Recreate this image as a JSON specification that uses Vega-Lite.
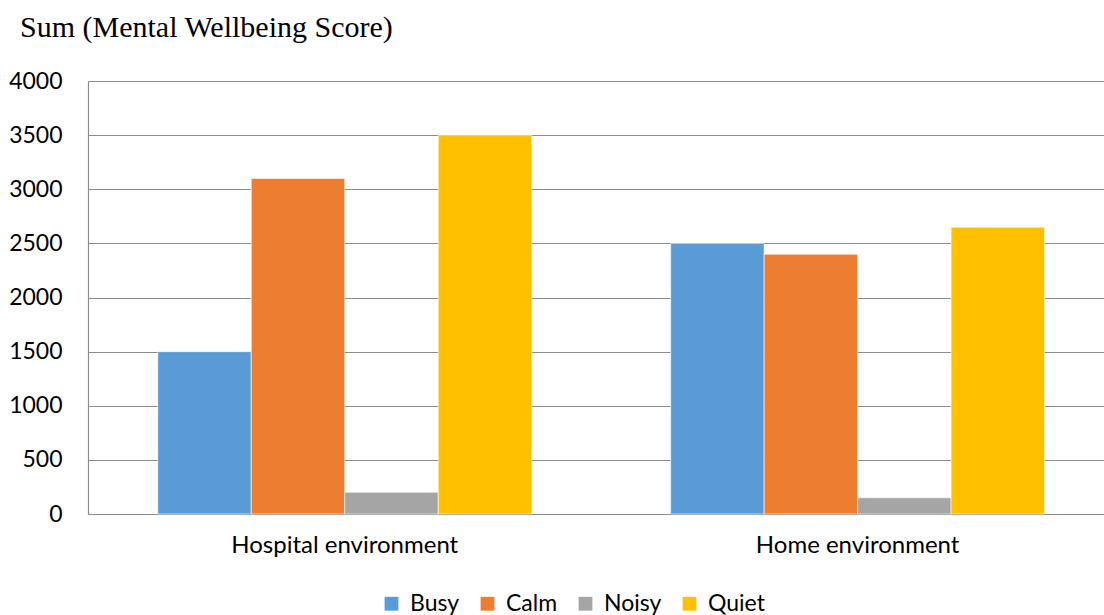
{
  "$schema": "https://vega.github.io/schema/vega-lite/v6.json",
  "width": 1016,
  "height": 433,
  "autosize": {"type": "none"},
  "padding": {"left": 88, "top": 81, "right": 0, "bottom": 101},
  "background": "white",
  "title": {
    "text": "Sum (Mental Wellbeing Score)",
    "anchor": "start",
    "frame": "group",
    "dx": -68,
    "font": "Liberation Serif",
    "fontSize": 30,
    "fontWeight": "normal",
    "color": "#000000",
    "offset": 27
  },
  "data": {
    "values": [
      {"environment": "Hospital environment", "type": "Busy", "score": 1500},
      {"environment": "Hospital environment", "type": "Calm", "score": 3100},
      {"environment": "Hospital environment", "type": "Noisy", "score": 200},
      {"environment": "Hospital environment", "type": "Quiet", "score": 3500},
      {"environment": "Home environment", "type": "Busy", "score": 2500},
      {"environment": "Home environment", "type": "Calm", "score": 2400},
      {"environment": "Home environment", "type": "Noisy", "score": 150},
      {"environment": "Home environment", "type": "Quiet", "score": 2650}
    ]
  },
  "mark": {"type": "bar", "stroke": "white", "strokeWidth": 0.6},
  "encoding": {
    "x": {
      "field": "environment",
      "type": "nominal",
      "sort": ["Hospital environment", "Home environment"],
      "scale": {"paddingInner": 0.271, "paddingOuter": 0.126, "align": 0.54},
      "axis": {
        "title": null,
        "labelAngle": 0,
        "labelFont": "Lato",
        "labelFontSize": 24,
        "labelLimit": 0,
        "labelColor": "#000000",
        "labelPadding": 19,
        "ticks": false,
        "domain": true,
        "domainColor": "#8c8c8c",
        "domainWidth": 1.2
      }
    },
    "xOffset": {
      "field": "type",
      "type": "nominal",
      "sort": ["Busy", "Calm", "Noisy", "Quiet"],
      "scale": {"paddingInner": 0, "paddingOuter": 0}
    },
    "y": {
      "field": "score",
      "type": "quantitative",
      "scale": {"domain": [0, 4000]},
      "axis": {
        "title": null,
        "values": [0, 500, 1000, 1500, 2000, 2500, 3000, 3500, 4000],
        "format": "d",
        "labelFont": "Lato",
        "labelFontSize": 23,
        "labelColor": "#000000",
        "labelPadding": 26,
        "ticks": false,
        "domain": true,
        "domainColor": "#8c8c8c",
        "domainWidth": 1.2,
        "grid": true,
        "gridColor": "#8c8c8c",
        "gridWidth": 1.2
      }
    },
    "color": {
      "field": "type",
      "type": "nominal",
      "sort": ["Busy", "Calm", "Noisy", "Quiet"],
      "scale": {
        "domain": ["Busy", "Calm", "Noisy", "Quiet"],
        "range": ["#5B9BD5", "#ED7D31", "#A5A5A5", "#FFC000"]
      },
      "legend": {
        "title": null,
        "orient": "none",
        "direction": "horizontal",
        "legendX": 292,
        "legendY": 511,
        "symbolType": "square",
        "symbolSize": 190,
        "symbolStrokeWidth": 0,
        "labelFont": "Lato",
        "labelFontSize": 23,
        "labelColor": "#000000",
        "labelOffset": 7,
        "columnPadding": 16
      }
    }
  },
  "config": {
    "view": {"stroke": null}
  }
}
